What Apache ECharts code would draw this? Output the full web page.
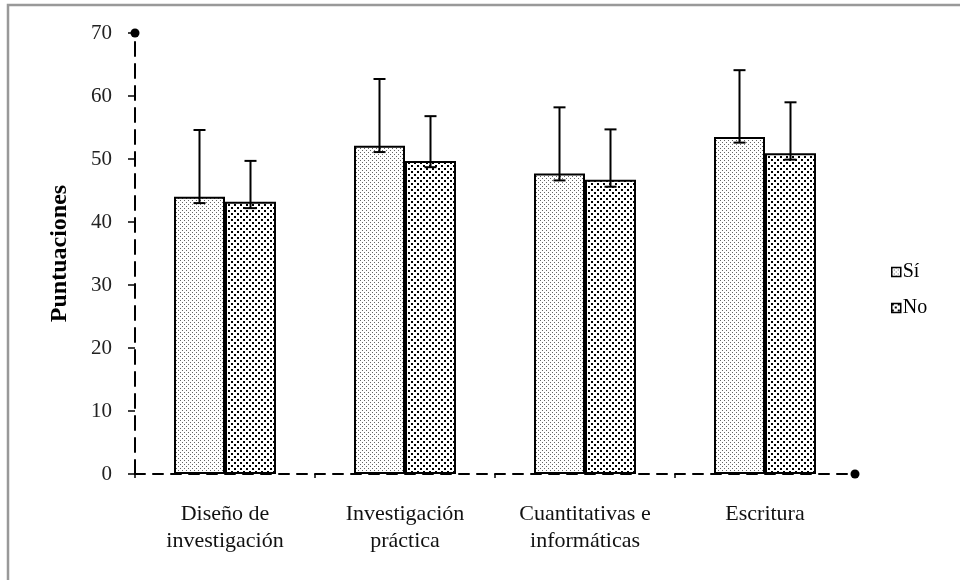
<!DOCTYPE html>
<html>
<head>
<meta charset="utf-8">
<title>Puntuaciones</title>
<script src="https://cdn.jsdelivr.net/npm/echarts@6/dist/echarts.min.js"></script>
<style>
    html, body { margin: 0; padding: 0; background: #fff; }
    #chart { width: 960px; height: 580px; }
</style>
</head>
<body>
<div id="chart"></div>
<script>
// datos
var categorias = ['Diseño de\ninvestigación', 'Investigación\npráctica', 'Cuantitativas e\ninformáticas', 'Escritura'];
var siMedia = [44.0, 52.1, 47.7, 53.5];
var siAlto = [54.6, 62.7, 58.2, 64.1];
var siBajo = [43.0, 51.1, 46.6, 52.6];
var noMedia = [43.2, 49.7, 46.7, 50.9];
var noAlto = [49.7, 56.8, 54.7, 59.0];
var noBajo = [42.2, 48.7, 45.6, 49.9];
var yTicks = [0, 10, 20, 30, 40, 50, 60, 70];

var fuente = "'Liberation Serif', 'Times New Roman', serif";

//trama de puntos
function trama(size, dots, dot, color) {
    var c = document.createElement('canvas');
    c.width = size;
    c.height = size;
    var ctx = c.getContext('2d');
    ctx.fillStyle = '#fff';
    ctx.fillRect(0, 0, size, size);
    ctx.fillStyle = color;
    for (var i = 0; i < dots.length; i++) {
        ctx.fillRect(dots[i][0], dots[i][1], dot, dot);
    }
    return { image: c, repeat: 'repeat' };
}
var tramaSi = trama(4, [[0, 0], [2, 2]], 1, '#666');
var tramaNo = trama(6, [[0, 0], [3, 3]], 2, '#000');

//barras de error
function errorBars(offset) {
    return function(params, api) {
        var i = api.value(0);
        var lo = api.coord([i, api.value(1)]);
        var hi = api.coord([i, api.value(2)]);
        var x = lo[0] + offset;
        var st = { stroke: '#000', lineWidth: 2 };
        return {
            type: 'group',
            children: [
                { type: 'line', shape: { x1: x, y1: lo[1], x2: x, y2: hi[1] }, style: st },
                { type: 'line', shape: { x1: x - 6, y1: hi[1], x2: x + 6, y2: hi[1] }, style: st },
                { type: 'line', shape: { x1: x - 6, y1: lo[1], x2: x + 6, y2: lo[1] }, style: st }
            ]
        };
    };
}
function errData(bajo, alto) {
    return bajo.map(function(v, i) { return [i, v, alto[i]]; });
}

var chart = echarts.init(document.getElementById('chart'));
var option = {
    backgroundColor: '#fff',
    animation: false,
    textStyle: { fontFamily: fuente, color: '#000' },
    graphic: [{
        type: 'rect',
        shape: { x: 8, y: 5, width: 980, height: 600 },
        style: { fill: 'none', stroke: '#999', lineWidth: 2.5 },
        silent: true
    }],
    grid: { left: 135, right: 105, top: 33, bottom: 106 },
    legend: {
        data: ['Sí', 'No'],
        orient: 'vertical',
        left: 891,
        top: 262,
        itemWidth: 9,
        itemHeight: 9,
        itemGap: 16,
        padding: 0,
        icon: 'rect',
        itemStyle: { borderWidth: 1.5, borderColor: '#000' },
        textStyle: { fontFamily: fuente, fontSize: 20, color: '#000', padding: [0, 0, 0, -3] }
    },
    xAxis: {
        type: 'category',
        data: categorias,
        axisLine: {
            lineStyle: { color: '#000', width: 2, type: [10, 8] },
            symbol: ['none', 'circle'],
            symbolSize: [9, 9]
        },
        axisTick: { show: true, length: 4, lineStyle: { color: '#000', width: 1.5 } },
        axisLabel: { interval: 0, fontFamily: fuente, fontSize: 22, lineHeight: 27, color: '#111', margin: 27 }
    },
    yAxis: {
        type: 'value',
        min: yTicks[0],
        max: yTicks[yTicks.length - 1],
        interval: 10,
        name: 'Puntuaciones',
        nameLocation: 'middle',
        nameGap: 63,
        nameTextStyle: { fontFamily: fuente, fontSize: 24, fontWeight: 'bold', color: '#000' },
        splitLine: { show: false },
        axisLine: {
            show: true,
            lineStyle: { color: '#000', width: 2, type: [14, 8] },
            symbol: ['none', 'circle'],
            symbolSize: [9, 9]
        },
        axisTick: { show: true, length: 7, lineStyle: { color: '#000', width: 1.5 } },
        axisLabel: { fontFamily: fuente, fontSize: 21, color: '#222', margin: 23 }
    },
    series: [{
        name: 'Sí',
        type: 'bar',
        data: siMedia,
        barWidth: 51,
        barGap: '0%',
        itemStyle: { color: tramaSi, borderColor: '#000', borderWidth: 2 }
    }, {
        name: 'No',
        type: 'bar',
        data: noMedia,
        barWidth: 51,
        barGap: '0%',
        itemStyle: { color: tramaNo, borderColor: '#000', borderWidth: 2 }
    }, {
        type: 'custom',
        renderItem: errorBars(-25.5),
        data: errData(siBajo, siAlto),
        encode: { x: 0, y: [1, 2] },
        z: 10
    }, {
        type: 'custom',
        renderItem: errorBars(25.5),
        data: errData(noBajo, noAlto),
        encode: { x: 0, y: [1, 2] },
        z: 10
    }]
};
chart.setOption(option);
</script>
</body>
</html>
